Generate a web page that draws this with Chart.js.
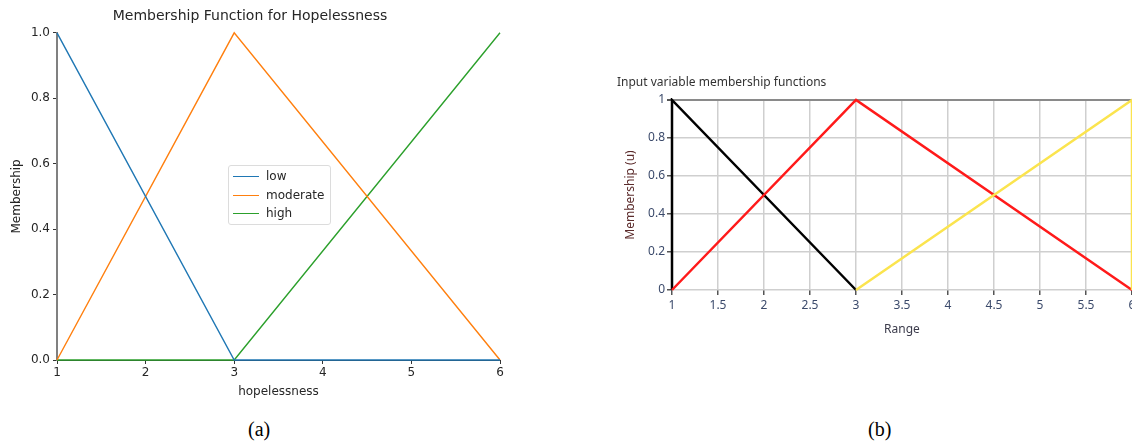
<!DOCTYPE html>
<html>
<head>
<meta charset="utf-8">
<script src="https://cdn.jsdelivr.net/npm/chart.js@4"></script>
<style>
  html, body { margin: 0; padding: 0; background: #fff; overflow: hidden; }
  body { width: 1132px; height: 446px; position: relative; }
  #wrapA { position: absolute; left: 0; top: 0; width: 520px; height: 403px; }
  #wrapB { position: absolute; left: 600px; top: 60px; width: 560px; height: 280px; }
  .cap { position: absolute; top: 418px; font-family: "Liberation Serif", serif; font-size: 20px; color: #000; }
  #legendA {
    position: absolute; left: 228px; top: 165px; width: 101px; height: 58px;
    border: 1px solid #dcdcdc; border-radius: 3px; background: rgba(255,255,255,0.85);
    font-family: "DejaVu Sans", sans-serif; font-size: 12px; color: #262626;
  }
  #legendA div { position: absolute; left: 0; height: 18px; line-height: 18px; }
  #legendA span.ln { position: absolute; left: 4px; top: 9px; width: 26px; height: 0; border-top: 1.5px solid; }
  #legendA span.tx { position: absolute; left: 37px; white-space: nowrap; }
</style>
</head>
<body>
<div id="wrapA"><canvas id="chartA"></canvas></div>
<div id="wrapB"><canvas id="chartB"></canvas></div>
<div id="legendA"></div>
<div class="cap" style="left:248px">(a)</div>
<div class="cap" style="left:868px">(b)</div>
<script>
// chart (a) - scikit-fuzzy style
var aLabels = ['low', 'moderate', 'high'];
var aColors = ['#1f77b4', '#ff7f0e', '#2ca02c'];
var aLowX = [1, 3, 6], aLowY = [1, 0, 0];
var aModX = [1, 3, 6], aModY = [0, 1, 0];
var aHighX = [1, 3, 6], aHighY = [0, 0, 1];

// chart (b) - LabVIEW style
var bLowX = [1, 1, 3], bLowY = [0, 1, 0];
var bMidX = [1, 3, 6], bMidY = [0, 1, 0];
var bHighX = [3, 6, 6], bHighY = [0, 1, 0];
var bColors = ['#000000', '#ff1a1a', '#fbe44e'];

function pts(xs, ys) {
    return xs.map(function (x, i) { return { x: x, y: ys[i] }; });
}

// short number labels: 1, 0.8, 2.5 ...
function shortNum(v) {
    return String(Math.round(v * 10) / 10);
}

var legendA = document.getElementById('legendA');
aLabels.forEach(function (l, i) {
    var d = document.createElement('div');
    d.style.top = (1 + i * 18.5) + 'px';
    d.innerHTML = '<span class="ln" style="border-color:' + aColors[i] + '"></span><span class="tx">' + l + '</span>';
    legendA.appendChild(d);
});

var fontA = { family: 'DejaVu Sans', size: 12 };

new Chart(document.getElementById('chartA'), {
    type: 'line',
    data: {
        datasets: [
            { label: aLabels[0], data: pts(aLowX, aLowY), borderColor: aColors[0] },
            { label: aLabels[1], data: pts(aModX, aModY), borderColor: aColors[1] },
            { label: aLabels[2], data: pts(aHighX, aHighY), borderColor: aColors[2] }
        ]
    },
    options: {
        responsive: true,
        maintainAspectRatio: false,
        animation: false,
        layout: { padding: { left: 0, right: 20, top: 0, bottom: 0 } },
        elements: { point: { radius: 0 }, line: { borderWidth: 1.4, tension: 0 } },
        datasets: { line: { clip: false } },
        scales: {
            x: {
                type: 'linear', min: 1, max: 6,
                afterFit: function (s) { s.height = 43; },
                ticks: { stepSize: 1, color: '#262626', font: fontA, padding: 2, maxRotation: 0 },
                grid: { display: true, drawOnChartArea: false, drawTicks: true, tickLength: 4, color: '#333' },
                border: { color: '#333', width: 1 },
                title: { display: true, text: 'hopelessness', color: '#262626', font: fontA, padding: { top: 2, bottom: 4 } }
            },
            y: {
                min: 0, max: 1,
                afterFit: function (s) { s.width = 57; },
                ticks: { stepSize: 0.2, color: '#262626', font: fontA, padding: 3,
                    callback: function (v) { return v.toFixed(1); } },
                grid: { display: true, drawOnChartArea: false, drawTicks: true, tickLength: 4, color: '#333' },
                border: { color: '#808080', width: 2 },
                title: { display: true, text: 'Membership', color: '#262626', font: fontA, padding: { top: 10, bottom: 0 } }
            }
        },
        plugins: {
            legend: { display: false },
            tooltip: { enabled: false },
            title: { display: true, text: 'Membership Function for Hopelessness', color: '#262626',
                font: { family: 'DejaVu Sans', size: 14, weight: 'normal' }, padding: { top: 8, bottom: 8 } }
        }
    }
});

var fontB = { family: 'Noto Sans', size: 12 };

new Chart(document.getElementById('chartB'), {
    type: 'line',
    data: {
        datasets: [
            { data: pts(bHighX, bHighY), borderColor: bColors[2] },
            { data: pts(bMidX, bMidY), borderColor: bColors[1] },
            { data: pts(bLowX, bLowY), borderColor: bColors[0] }
        ]
    },
    options: {
        responsive: true,
        maintainAspectRatio: false,
        animation: false,
        layout: { padding: { left: 17, right: 28, top: 0, bottom: 0 } },
        elements: { point: { radius: 0 }, line: { borderWidth: 2.5, tension: 0 } },
        datasets: { line: { clip: 2 } },
        scales: {
            x: {
                type: 'linear', min: 1, max: 6,
                afterFit: function (s) { s.height = 50; },
                ticks: { stepSize: 0.5, color: '#3b4a6b', font: fontB, padding: 3, maxRotation: 0, callback: shortNum },
                grid: { color: '#cfcfcf', lineWidth: 1.5, tickLength: 5, tickColor: '#555' },
                border: { display: false },
                title: { display: true, text: 'Range', color: '#3b3b4b', font: fontB, padding: { top: 2, bottom: 3 } }
            },
            y: {
                min: 0, max: 1,
                afterFit: function (s) { s.width = 55; },
                ticks: { stepSize: 0.2, color: '#3b4a6b', font: fontB, padding: 2, callback: shortNum },
                grid: {
                    color: function (c) { return c.tick && c.tick.value === 1 ? '#8a8a8a' : '#cfcfcf'; },
                    lineWidth: function (c) { return c.tick && c.tick.value === 1 ? 2 : 1.5; },
                    tickLength: 5, tickColor: '#555'
                },
                border: { display: false },
                title: { display: true, text: 'Membership (u)', color: '#5b2b2b', font: fontB, padding: { top: 6, bottom: 0 } }
            }
        },
        plugins: {
            legend: { display: false },
            tooltip: { enabled: false },
            title: { display: true, text: 'Input variable membership functions', align: 'start', color: '#333',
                font: { family: 'Noto Sans', size: 12, weight: 'normal' }, padding: { top: 15, bottom: 10.6 } }
        }
    }
});
</script>
</body>
</html>
